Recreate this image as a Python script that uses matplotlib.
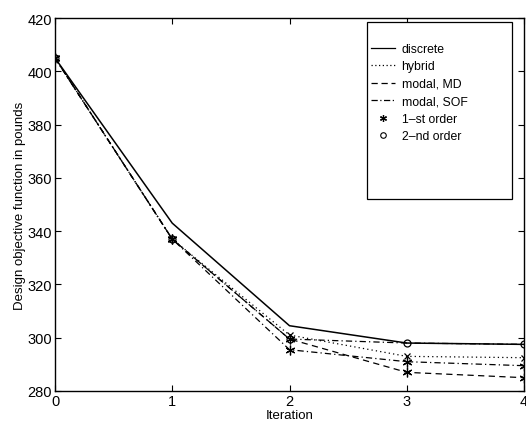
import matplotlib
matplotlib.use("Agg")
import matplotlib.pyplot as plt
from matplotlib.patches import Rectangle

# values
iterations = [0, 1, 2, 3, 4]
discrete = [405, 343, 304.5, 298, 297.5]
hybrid = [405, 337, 301, 293, 292.5]
modal_md = [405, 337, 299.5, 287, 285]
modal_sof = [405, 337, 295.5, 291, 289.5]
modal_sof_2nd = [405, 337, 299.5, 298, 297.5]

plt.rcParams["font.family"] = ["Liberation Sans", "DejaVu Sans"]

W, H = 526, 431
fig = plt.figure(figsize=(W / 100, H / 100), dpi=100)
ax = fig.add_axes([55 / W, 1 - 392 / H, (524 - 55) / W, (392 - 19) / H])

lw = 0.9
ax.plot(iterations, discrete, color="black", linestyle="-", linewidth=1.1)
ax.plot(iterations, hybrid, color="black", linestyle=(0, (1, 2.5)), linewidth=lw,
        marker="x", markersize=5, markeredgewidth=0.9)
ax.plot(iterations, modal_md, color="black", linestyle=(0, (5, 3.5)), linewidth=lw,
        marker=(6, 2, 0), markersize=7, markeredgewidth=0.9)
ax.plot(iterations, modal_sof, color="black", linestyle=(0, (5, 2.5, 1, 2.5)), linewidth=lw,
        marker=(6, 2, 0), markersize=7, markeredgewidth=0.9)
ax.plot(iterations, modal_sof_2nd, color="black", linestyle=(0, (5, 2.5, 1, 2.5)), linewidth=lw,
        marker="o", markersize=5, markerfacecolor="none", markeredgewidth=0.9)

ax.set_xlim(0, 4)
ax.set_ylim(280, 420)
ax.set_xticks(iterations)
ax.set_yticks(range(280, 421, 20))
ax.tick_params(direction="in", length=4, width=0.8, top=True, right=True,
               labelsize=10.5, pad=2)
for s in ax.spines.values():
    s.set_linewidth(1.0)

ax.set_xlabel("Iteration", fontsize=9.5, labelpad=1)
ax.set_ylabel("Design objective function in pounds", fontsize=9.5, labelpad=1)

# legend: line styles for the methods, markers for the approximation order
handles = [
    plt.Line2D([], [], color="black", linestyle="-", linewidth=0.9),
    plt.Line2D([], [], color="black", linestyle=(0, (1, 2)), linewidth=0.9),
    plt.Line2D([], [], color="black", linestyle=(0, (5, 3)), linewidth=0.9),
    plt.Line2D([], [], color="black", linestyle=(0, (5, 2, 1, 2)), linewidth=0.9),
    plt.Line2D([], [], color="black", linestyle="none", marker=(6, 2, 0),
               markersize=5, markeredgewidth=0.9),
    plt.Line2D([], [], color="black", linestyle="none", marker="o",
               markersize=4, markerfacecolor="none", markeredgewidth=0.8),
]
labels = ["discrete", "hybrid", "modal, MD", "modal, SOF", "1\u2013st order", "2\u2013nd order"]

fig.patches.append(Rectangle((367 / W, 1 - 200 / H), (512 - 367) / W, (200 - 23) / H,
                             transform=fig.transFigure, facecolor="white",
                             edgecolor="black", linewidth=0.9, zorder=3))
leg = fig.legend(handles, labels, loc="upper left", bbox_to_anchor=(371 / W, 1 - 44 / H),
                 frameon=False, fontsize=8.8, handlelength=2.0, handletextpad=0.5,
                 labelspacing=0.45, borderpad=0, borderaxespad=0)
leg.set_zorder(4)

fig.savefig("out.png", dpi=100)
